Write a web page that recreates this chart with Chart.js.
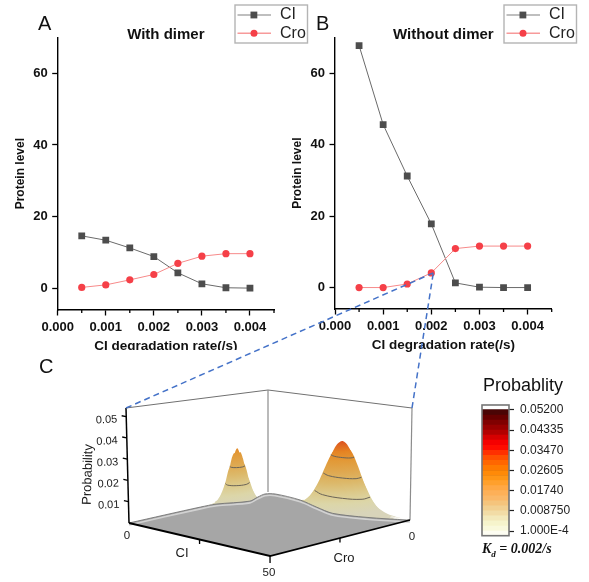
<!DOCTYPE html>
<html><head><meta charset="utf-8">
<style>
html,body{margin:0;padding:0;background:#fff;width:589px;height:582px;overflow:hidden}
#page{position:relative;width:589px;height:582px;font-family:"Liberation Sans",Arial,sans-serif;color:#111;filter:blur(0.4px)}
.abs{position:absolute}
canvas{display:block}
.letter{position:absolute;font-size:20px;line-height:20px}
#kd{position:absolute;left:482px;top:541px;font:italic bold 14px "Liberation Serif",serif;white-space:nowrap}
#kd sub{font-size:9px;line-height:0}
</style>
<script src="https://cdn.jsdelivr.net/npm/chart.js@4/dist/chart.umd.js"></script>
</head><body>
<div id="page">
  <div class="abs" style="left:0;top:0;width:310px;height:350px;overflow:hidden"><canvas id="cA" width="310" height="360"></canvas></div>
  <div class="abs" style="left:290px;top:0"><canvas id="cB" width="299" height="360"></canvas></div>
  <div class="abs" style="left:0;top:0"><canvas id="cC" width="589" height="582"></canvas></div>
  <div class="abs" style="left:457px;top:375px"><canvas id="cBar" width="132" height="165"></canvas></div>
  <div class="letter" style="left:38px;top:13px">A</div>
  <div class="letter" style="left:316px;top:13px">B</div>
  <div class="letter" style="left:39px;top:356px">C</div>
  <div id="kd">K<sub>d</sub> = 0.002/s</div>
</div>
<script>
// ---- panel A / B data ----
const degradationRate = [0.0005,0.001,0.0015,0.002,0.0025,0.003,0.0035,0.004];
const ciWithDimer     = [14.66,13.45,11.3,8.9,4.36,1.3,0.2,0.1];
const croWithDimer    = [0.3,1.0,2.4,3.9,7.0,9.0,9.7,9.7];
const ciWithoutDimer  = [67.7,45.6,31.2,17.8,1.3,0.1,0,0];
const croWithoutDimer = [0,0,1.0,4.1,10.9,11.6,11.6,11.6];
const xTicks = [0,0.001,0.002,0.003,0.004];
const xMinorTicks = [0.0005,0.0015,0.0025,0.0035,0.0045];
const yTicks = [0,20,40,60];

// ---- panel C data: probability, one row per Cro level ----
const rightPeakCI  = [12,14,16,18,20,22,24,26,28,30,32,34,36,38,40,42,44,46,48,50];
const rightPeakCro = [0,1,2,3,4,5,6,7,8,9,10,11,12];
const rightPeakP = [
 [0,.0001,.0004,.0009,.0019,.0034,.0054,.0074,.0091,.0097,.0091,.0074,.0054,.0034,.0019,.0009,.0004,.0001,0,0],
 [.0001,.0002,.0007,.0016,.0032,.0059,.0094,.0131,.0159,.017,.0159,.0131,.0094,.0059,.0032,.0016,.0007,.0002,.0001,0],
 [.0001,.0004,.001,.0023,.0048,.0088,.014,.0194,.0237,.0253,.0237,.0194,.014,.0088,.0048,.0023,.001,.0004,.0001,0],
 [.0002,.0005,.0013,.003,.0062,.0112,.0178,.0247,.0301,.0322,.0301,.0247,.0178,.0112,.0062,.003,.0013,.0005,.0002,0],
 [.0002,.0005,.0014,.0032,.0067,.0121,.0193,.0268,.0327,.0349,.0327,.0268,.0193,.0121,.0067,.0032,.0014,.0005,.0002,0],
 [.0002,.0005,.0013,.003,.0062,.0112,.0178,.0247,.0301,.0322,.0301,.0247,.0178,.0112,.0062,.003,.0013,.0005,.0002,0],
 [.0001,.0004,.001,.0023,.0048,.0088,.014,.0194,.0237,.0253,.0237,.0194,.014,.0088,.0048,.0023,.001,.0004,.0001,0],
 [.0001,.0002,.0007,.0016,.0032,.0059,.0094,.0131,.0159,.017,.0159,.0131,.0094,.0059,.0032,.0016,.0007,.0002,.0001,0],
 [0,.0001,.0004,.0009,.0019,.0034,.0054,.0074,.0091,.0097,.0091,.0074,.0054,.0034,.0019,.0009,.0004,.0001,0,0],
 [0,.0001,.0002,.0004,.0009,.0016,.0026,.0036,.0044,.0047,.0044,.0036,.0026,.0016,.0009,.0004,.0002,.0001,0,0],
 [0,0,.0001,.0002,.0004,.0007,.0011,.0015,.0019,.002,.0019,.0015,.0011,.0007,.0004,.0002,.0001,0,0,0],
 [0,0,0,.0001,.0001,.0002,.0004,.0005,.0007,.0007,.0007,.0005,.0004,.0002,.0001,.0001,0,0,0,0],
 [0,0,0,0,0,.0001,.0001,.0002,.0002,.0002,.0002,.0002,.0001,.0001,0,0,0,0,0,0]
];
const leftPeakCI  = [0,1,2,3,4,5,6,7,8,9,10,11,12];
const leftPeakCro = [7,8,9,10,11,12,13,14,15,16,17,18,19,20,21,22,23];
const leftPeakP = [
 [0,.0001,.0001,.0002,.0002,.0002,.0001,.0001,0,0,0,0,0],
 [.0001,.0002,.0004,.0005,.0006,.0005,.0004,.0002,.0001,0,0,0,0],
 [.0002,.0005,.001,.0014,.0016,.0014,.001,.0005,.0002,.0001,0,0,0],
 [.0005,.0012,.0023,.0034,.0038,.0034,.0023,.0012,.0005,.0002,0,0,0],
 [.0011,.0025,.0047,.0069,.0078,.0069,.0047,.0025,.0011,.0003,.0001,0,0],
 [.0018,.0045,.0083,.0121,.0137,.0121,.0083,.0045,.0018,.0006,.0002,0,0],
 [.0028,.0066,.0124,.018,.0204,.018,.0124,.0066,.0028,.0009,.0002,0,0],
 [.0035,.0084,.0157,.0228,.0259,.0228,.0157,.0084,.0035,.0011,.0003,.0001,0],
 [.0038,.0091,.0171,.0248,.0281,.0248,.0171,.0091,.0038,.0012,.0003,.0001,0],
 [.0035,.0084,.0157,.0228,.0259,.0228,.0157,.0084,.0035,.0011,.0003,.0001,0],
 [.0028,.0066,.0124,.018,.0204,.018,.0124,.0066,.0028,.0009,.0002,0,0],
 [.0018,.0045,.0083,.0121,.0137,.0121,.0083,.0045,.0018,.0006,.0002,0,0],
 [.0011,.0025,.0047,.0069,.0078,.0069,.0047,.0025,.0011,.0003,.0001,0,0],
 [.0005,.0012,.0023,.0034,.0038,.0034,.0023,.0012,.0005,.0002,0,0,0],
 [.0002,.0005,.001,.0014,.0016,.0014,.001,.0005,.0002,.0001,0,0,0],
 [.0001,.0002,.0004,.0005,.0006,.0005,.0004,.0002,.0001,0,0,0,0],
 [0,.0001,.0001,.0002,.0002,.0002,.0001,.0001,0,0,0,0,0]
];
// boundary of the flat (near-zero) grey floor
const rimCI  = [0,0,0.5,4.2,2.3,1.1,3,12.7,21.7,29.7,39.5,49.4,50];
const rimCro = [50,24.3,18.9,10.8,6,2.2,0.5,1.4,4.6,7,4.7,0.5,0];
// contour lines: level, then (CI, Cro) along the visible arc
const contourLevels = [0.0275,0.018,0.00875,0.019,0.0104];
const contourCI  = [[26.6,28.7,31.6,33.5,33.4],[24.4,27.85,32.66,35.8,35.6],[21.9,26.89,33.85,38.4,38.2],[2.9,4,5.25,5.7,5.1],[2.3,4,5.99,6.75,5.7]];
const contourCro = [[4.7,5.62,5.56,4.59,3.3],[5.1,6.69,6.59,4.98,2.9],[5.6,7.89,7.77,5.42,2.4],[16.6,17.21,16.56,14.8,13.4],[17.6,18.52,17.49,14.69,12.4]];
const zTicks = [0.01,0.02,0.03,0.04,0.05];
const zTickLabels = ['0.01','0.02','0.03','0.04','0.05'];

// ---- colour bar data ----
const colorTicks = [0.0001,0.00875,0.0174,0.02605,0.0347,0.04335,0.052];
const colorTickLabels = ['1.000E-4','0.008750','0.01740','0.02605','0.03470','0.04335','0.05200'];
const bandEdges = [-0.0019,0.0001,0.00226,0.00442,0.00658,0.00875,0.01091,0.01307,0.01523,0.0174,0.01956,0.02172,0.02388,0.02605,0.02821,0.03037,0.03253,0.0347,0.03686,0.03902,0.04118,0.04335,0.04551,0.04767,0.04983,0.052];
const bandColors = ['#fdfdf2','#f9f9dc','#f6f4cc','#f3e9bb','#f2dca6','#f2d091','#f5c47c','#fab868','#fdb058','#ffa844','#ffa02c','#ff9616','#ff8a08','#ff7a00','#ff6600','#ff5000','#ff3000','#ff0c00','#f50000','#d60000','#b30000','#990000','#800000','#660000','#4a0505','#300808'];

Chart.defaults.font.family = '"Liberation Sans",Arial,sans-serif';
Chart.defaults.color = '#111';
Chart.defaults.animation = false;
Chart.defaults.responsive = false;
Chart.defaults.devicePixelRatio = 1;

const boxedLegend = {
  id:'boxedLegend',
  afterDraw(chart,_a,o){
    const c = chart.ctx, L = o.left, T = 5, W = 72.5, H = 38;
    c.save();
    c.strokeStyle = '#b4b4b4'; c.lineWidth = 1.4; c.strokeRect(L,T,W,H);
    chart.data.datasets.forEach((d,i)=>{
      const y = T + 10 + i*18.2;
      c.strokeStyle = i===0 ? '#aaaaaa' : '#f79a9a'; c.lineWidth = 1.5;
      c.beginPath(); c.moveTo(L+2.5,y); c.lineTo(L+36,y); c.stroke();
      c.fillStyle = d.pointBackgroundColor;
      if(i===0){ c.fillRect(L+15.5,y-3.4,6.8,6.8); }
      else { c.beginPath(); c.arc(L+19,y,3.5,0,Math.PI*2); c.fill(); }
      c.fillStyle = '#222'; c.font = '16px "Liberation Sans",Arial,sans-serif';
      c.textBaseline = 'middle'; c.textAlign = 'left';
      c.fillText(d.label,L+45,y);
    });
    c.restore();
  }
};
const minorTicks = {
  id:'minorTicks',
  afterDraw(chart){
    const c = chart.ctx, s = chart.scales.x;
    c.save(); c.strokeStyle = '#000'; c.lineWidth = 1.3;
    xMinorTicks.forEach(v=>{
      const x = s.getPixelForValue(v);
      c.beginPath(); c.moveTo(x,s.top); c.lineTo(x,s.top+3); c.stroke();
    });
    c.restore();
  }
};

function lineChart(id,title,ci,cro,o){
  return new Chart(document.getElementById(id),{
    type:'line',
    data:{labels:degradationRate,datasets:[
      {label:'CI',data:degradationRate.map((x,i)=>({x,y:ci[i]})),borderColor:'#6a6a6a',borderWidth:1,
       pointStyle:'rect',pointRadius:4.8,pointBackgroundColor:'#4d4d4d',pointBorderColor:'#4d4d4d',pointBorderWidth:0,order:2},
      {label:'Cro',data:degradationRate.map((x,i)=>({x,y:cro[i]})),borderColor:'#f78a8a',borderWidth:1,
       pointStyle:'circle',pointRadius:3.6,pointBackgroundColor:'#f54048',pointBorderColor:'#f54048',pointBorderWidth:0,order:1}
    ]},
    options:{
      layout:{padding:{left:0,right:o.padRight,top:0,bottom:0}},
      plugins:{
        legend:{display:false},tooltip:{enabled:false},
        title:{display:true,text:title,fullSize:false,color:'#111',font:{size:15,weight:'bold'},padding:{top:26,bottom:-6.7}},
        boxedLegend:{left:o.legendLeft}
      },
      scales:{
        x:{type:'linear',min:0,max:0.0045,
          afterBuildTicks:s=>{s.ticks=xTicks.map(v=>({value:v}));},
          afterFit:s=>{s.height=o.bottomSpace;},
          ticks:{font:{size:13,weight:'bold'},color:'#111',padding:4,maxRotation:0,callback:v=>v.toFixed(3)},
          border:{color:'#000',width:1.4},
          grid:{drawOnChartArea:false,drawTicks:true,tickLength:5.5,tickColor:'#000',tickWidth:1.3},
          title:{display:true,text:'CI degradation rate(/s)',color:'#111',font:{size:13.5,weight:'bold'},padding:{top:0,bottom:o.titleBottom}}
        },
        y:{type:'linear',min:-6,max:70,
          afterBuildTicks:s=>{s.ticks=yTicks.map(v=>({value:v}));},
          afterFit:s=>{s.width=o.leftSpace;},
          ticks:{font:{size:13,weight:'bold'},color:'#111',padding:4.5},
          border:{color:'#000',width:1.4},
          grid:{drawOnChartArea:false,drawTicks:true,tickLength:5.5,tickColor:'#000',tickWidth:1.3},
          title:{display:true,text:'Protein level',color:'#111',font:{size:12,weight:'bold'},padding:{top:o.titleTop,bottom:0}}
        }
      }
    },
    plugins:[boxedLegend,minorTicks]
  });
}
const chartA = lineChart('cA','With dimer',ciWithDimer,croWithDimer,{padRight:36,legendLeft:235,bottomSpace:50,leftSpace:57.7,titleBottom:5.6,titleTop:13.8});
const chartB = lineChart('cB','Without dimer',ciWithoutDimer,croWithoutDimer,{padRight:37.3,legendLeft:214,bottomSpace:51,leftSpace:45,titleBottom:6.6,titleTop:0.8});

// ---- panel C: axonometric projection of (CI, Cro, P) on to the overlay chart's scales ----
const PTOP = 0.054;
const floorK=[268,492],floorR=[410,520],floorL=[129,523],floorF=[270,556];
const topK=[268,390],topR=[412,408],topL=[126,408],topF=[269,431];
function bil(k,r,l,f,a,b,i){return k[i]*(1-a)*(1-b)+r[i]*a*(1-b)+l[i]*(1-a)*b+f[i]*a*b;}
function project(ci,cro,p){
  const a=ci/50,b=cro/50,t=p/PTOP;
  const fx=bil(floorK,floorR,floorL,floorF,a,b,0),fy=bil(floorK,floorR,floorL,floorF,a,b,1);
  const tx=bil(topK,topR,topL,topF,a,b,0),ty=bil(topK,topR,topL,topF,a,b,1);
  return {x:fx+(tx-fx)*t,y:fy+(ty-fy)*t};
}
const cC = document.getElementById('cC');
const g2d = cC.getContext('2d');
const heightStops = [[0,'#d8d4ba'],[.14,'#dcd6a8'],[.28,'#dcc98a'],[.42,'#dcb869'],[.56,'#dfa850'],[.7,'#e29a38'],[.83,'#e58322'],[.97,'#dc5020'],[1,'#d84818']];
function heightGradient(ci,cro){
  const y0=project(ci,cro,0).y,y1=project(ci,cro,0.036).y;
  const g=g2d.createLinearGradient(0,y0,0,y1);
  heightStops.forEach(s=>g.addColorStop(s[0],s[1]));
  return g;
}
function seg(pts,color,width,extra){
  return Object.assign({type:'scatter',showLine:true,data:pts,borderColor:color,borderWidth:width,pointRadius:0,fill:false,tension:0},extra||{});
}
function ribbon(ciCols,cro,values,peakCI){
  const top=ciCols.map((ci,j)=>project(ci,cro,values[j]));
  const base=[project(ciCols[ciCols.length-1],cro,0),project(ciCols[0],cro,0)];
  return seg(top.concat(base),'transparent',0,{fill:'shape',tension:0.35,backgroundColor:heightGradient(peakCI,cro)});
}
const paint=[];
// box edges behind the surface
paint.push(seg([project(0,50,PTOP),project(0,0,PTOP),project(50,0,PTOP)],'#707070',1));
paint.push(seg([project(0,0,0),project(0,0,PTOP)],'#8c8c8c',1.2));
paint.push(seg([project(50,0,0),project(50,0,PTOP)],'#8c8c8c',1.2));
// filled ribbons, one per Cro row, back to front
for(let cro=0;cro<=24;cro++){
  const r=rightPeakCro.indexOf(cro), l=leftPeakCro.indexOf(cro);
  if(r>=0) paint.push(ribbon(rightPeakCI,cro,rightPeakP[r],30));
  if(l>=0) paint.push(ribbon(leftPeakCI,cro,leftPeakP[l],4));
}
// grey floor in front of the peaks
const rimPts = rimCI.map((ci,i)=>project(ci,rimCro[i],0));
paint.push(seg(rimPts.concat([project(50,50,0)]),'transparent',0,{fill:'shape',backgroundColor:'#a6a6a6'}));
paint.push(seg(rimCI.map((ci,i)=>project(ci,rimCro[i],-0.0009)),'#d2d2d2',1.6,{tension:0.3}));
paint.push(seg(rimPts,'#757575',0.9,{tension:0.3}));
// contours
contourLevels.forEach((lv,k)=>{
  paint.push(seg(contourCI[k].map((ci,i)=>project(ci,contourCro[k][i],lv)),'#6b6457',1,{tension:0.4}));
});
// axes
paint.push(seg([project(0,50,0),project(50,50,0),project(50,0,0)],'#000',1.8));
paint.push(seg([project(0,50,0),project(0,50,PTOP)],'#000',1.5));
zTicks.forEach(v=>paint.push(seg([project(0,50,v),project(-1.6,50,v)],'#000',1.3)));
paint.push(seg([project(25,50,0),project(25,50,-0.002)],'#000',1.3));
paint.push(seg([project(50,25,0),project(50,25,-0.002)],'#000',1.3));
paint.push(seg([project(50,50,0),project(50,50,-0.003)],'#000',1.3));
// dashed leaders from chart B's 0.002 point
const bx = 290+chartB.scales.x.getPixelForValue(degradationRate[3]);
const by = chartB.scales.y.getPixelForValue(croWithoutDimer[3]);
const dash={borderDash:[6,4]};
paint.push(seg([project(0,50,PTOP),{x:bx+2,y:by}],'#4472c8',1.5,dash));
paint.push(seg([project(50,0,PTOP),{x:bx+2,y:by}],'#4472c8',1.5,dash));
paint.forEach((d,i)=>{d.order=-i;});

const surfaceLabels = {
  id:'surfaceLabels',
  afterDraw(chart){
    const c=chart.ctx;
    const sx=chart.scales.x, sy=chart.scales.y;
    function txt(s,x,y,size,rot){
      c.save(); c.translate(sx.getPixelForValue(x),sy.getPixelForValue(y)); c.rotate(rot||0);
      c.fillStyle='#1a1a1a'; c.font=size+'px "Liberation Sans",Arial,sans-serif';
      c.textAlign='center'; c.textBaseline='middle'; c.fillText(s,0,0); c.restore();
    }
    zTicks.forEach((v,i)=>{ const p=project(0,50,v); txt(zTickLabels[i],p.x-19.7,p.y+3.5,11,-0.05); });
    txt('Probability',88,474.5,13,-Math.PI/2+0.03);
    let p=project(0,50,0); txt('0',p.x-2,p.y+13,11.5);
    p=project(25,50,0); txt('CI',p.x-17.5,p.y+14,13);
    p=project(50,50,0); txt('50',p.x-1,p.y+17,11.5);
    p=project(50,25,0); txt('Cro',p.x+4,p.y+20,13);
    p=project(50,0,0); txt('0',p.x+2,p.y+17,11.5);
  }
};
const chartC = new Chart(cC,{
  type:'scatter',
  data:{datasets:paint},
  options:{
    layout:{padding:0},
    plugins:{legend:{display:false},tooltip:{enabled:false},title:{display:false},filler:{propagate:false}},
    scales:{x:{type:'linear',min:0,max:589,display:false},y:{type:'linear',min:0,max:582,reverse:true,display:false}}
  },
  plugins:[surfaceLabels]
});

// ---- colour bar ----
const barFrame = {
  id:'barFrame',
  afterDraw(chart){
    const a=chart.chartArea,c=chart.ctx;
    c.save(); c.strokeStyle='#767676'; c.lineWidth=1.6;
    c.strokeRect(a.left,a.top,a.right-a.left,a.bottom-a.top); c.restore();
  }
};
const bandSets = bandColors.map((col,i)=>({data:[[bandEdges[i],bandEdges[i+1]]],backgroundColor:col,borderWidth:0,grouped:false,barPercentage:1,categoryPercentage:1,yAxisID:'y'}));
new Chart(document.getElementById('cBar'),{
  type:'bar',
  data:{labels:[''],datasets:bandSets},
  options:{
    layout:{padding:{left:0,right:0,top:0,bottom:4.3}},
    plugins:{legend:{display:false},tooltip:{enabled:false},
      title:{display:true,text:'Probablity',color:'#111',font:{size:18,weight:'normal'},padding:{top:0,bottom:8.4}}},
    scales:{
      x:{display:false},
      spacer:{position:'left',min:0,max:1,afterFit:s=>{s.width=25;s.paddingTop=0;s.paddingBottom=0;},
        ticks:{display:false},border:{display:false},grid:{display:false}},
      y:{position:'right',min:-0.0019,max:0.0541,
        afterBuildTicks:s=>{s.ticks=colorTicks.map(v=>({value:v}));},
        afterFit:s=>{s.width=80;s.paddingTop=0;s.paddingBottom=0;},
        ticks:{font:{size:12},color:'#222',padding:6,callback:v=>colorTickLabels[colorTicks.indexOf(v)]},
        border:{display:false},
        grid:{drawOnChartArea:false,drawTicks:true,tickLength:5,tickColor:'#222',tickWidth:1.2}
      }
    }
  },
  plugins:[barFrame]
});
</script>
</body></html>
